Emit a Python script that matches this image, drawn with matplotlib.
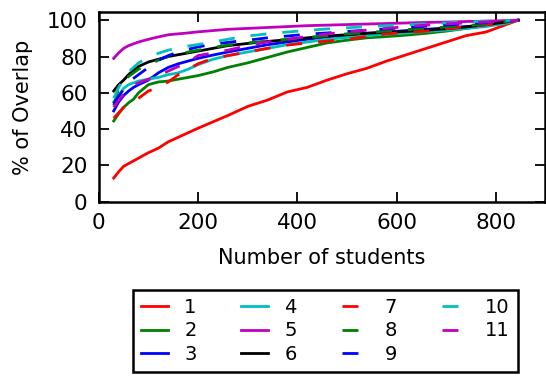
import matplotlib
matplotlib.use('Agg')
import matplotlib.pyplot as plt

# number of students (shared x grid)
students = [30, 40, 50, 60, 70, 80, 100, 120, 140, 160, 180, 200, 230, 260, 300,
            340, 380, 420, 460, 500, 540, 580, 620, 660, 700, 740, 780, 820, 845]

# % of overlap for each run
s1 = [13, 16.5, 19.5, 21, 22.5, 24, 27, 29.5, 33, 35.5, 38, 40.5, 44, 47.5, 52.5,
      56, 60.5, 63, 67, 70.5, 73.5, 77.5, 81, 84.5, 88, 91.5, 93.5, 97.5, 100]
s2 = [44.5, 48.5, 52, 54.5, 56.5, 60, 64.5, 66, 66.5, 67.5, 68.5, 69.5, 71.5, 74, 76.5,
      79.5, 82.5, 85, 87.5, 89, 90.3, 91, 91.8, 92.8, 94, 95.5, 97, 98.5, 100]
s3 = [50, 55, 58.5, 61, 63, 64.5, 67, 71, 74, 76, 77.5, 79, 80.8, 82.5, 84.5,
      86.5, 88, 89.5, 90.8, 91.8, 92.8, 93.5, 94.3, 95, 95.8, 96.5, 97.5, 98.8, 100]
s4 = [55, 58.5, 62.5, 64.5, 65.5, 66.5, 67.5, 68.5, 70, 71, 73, 75.5, 78.5, 80.5, 82.5,
      84.5, 86.5, 88, 89.5, 90.5, 91.5, 92.3, 93, 93.8, 94.5, 95.5, 96.5, 98.3, 100]
s5 = [79, 82, 84.5, 86, 87, 88, 89.5, 90.8, 92, 92.5, 93, 93.6, 94.3, 95, 95.5,
      96, 96.5, 97, 97.3, 97.6, 97.9, 98.2, 98.5, 98.8, 99, 99.3, 99.5, 99.8, 100]
s6 = [61, 64.5, 67, 70, 72.5, 74.5, 77, 78.5, 80, 81, 82, 83, 84.5, 86, 87.2,
      88.3, 89.3, 90.3, 91.3, 92, 92.8, 93.3, 93.8, 94.5, 95.3, 96.3, 97.5, 99, 100]
s7 = [46, 49, 52, 53.5, 55, 57, 61, 63, 66, 70, 73, 76, 79, 80.5, 82.5,
      84.5, 86.3, 87.5, 88.5, 89.5, 91, 92.5, 93.3, 94, 95.3, 96.5, 97.5, 99, 100]
s8 = [53, 62.5, 66, 69, 71, 73, 75.5, 78, 80, 81, 82.5, 83.5, 85, 86.3, 87.5,
      88.5, 89.5, 90.5, 91.5, 92.5, 93.2, 94, 94.8, 95.5, 96.3, 97, 98, 99.3, 100]
s9 = [54, 58, 62, 66, 68, 70, 74, 78, 80.5, 82.5, 84, 85.3, 86.8, 87.8, 89,
      90.3, 91.3, 92.3, 93, 93.8, 94.5, 95.2, 96, 96.7, 97.3, 98, 98.7, 99.5, 100]
s10 = [57, 63, 67.5, 71.5, 74, 76.5, 79.5, 81.8, 83.5, 84.8, 85.8, 86.6, 88, 89.5, 91.3,
       92.5, 93.5, 94.4, 95.2, 95.8, 96.5, 97, 97.5, 98, 98.5, 99, 99.5, 99.8, 100]
s11 = [52, 56, 59, 62, 64, 65.5, 67.5, 69.5, 72, 74.5, 77, 80.5, 82, 83.5, 86,
       88, 89.5, 91, 92.5, 93.5, 94.5, 95.5, 96.5, 97.3, 98, 98.5, 99, 99.6, 100]

series = [s1, s2, s3, s4, s5, s6, s7, s8, s9, s10, s11]
labels = ['1', '2', '3', '4', '5', '6', '7', '8', '9', '10', '11']
colors = ['#ff0000', '#008000', '#0000ff', '#00bfbf', '#bf00bf', '#000000',
          '#ff0000', '#008000', '#0000ff', '#00bfbf', '#bf00bf']

plt.rcParams['font.family'] = 'DejaVu Sans'
plt.rcParams['font.size'] = 15

fig = plt.figure(figsize=(5.46, 3.77), dpi=100)
ax = fig.add_axes([0.181, 0.465, 0.818, 0.503])

for i, ys in enumerate(series):
    if i < 6:
        ax.plot(students, ys, color=colors[i], lw=2, label=labels[i])
    else:
        ax.plot(students, ys, color=colors[i], lw=2, ls=(0, (5.75, 5.75)), label=labels[i])

ax.set_xlim(0, 900)
ax.set_ylim(0, 104.5)
ax.set_xticks([0, 200, 400, 600, 800])
ax.set_yticks([0, 20, 40, 60, 80, 100])
ax.tick_params(direction='in', length=7, width=1.3, top=True, right=True, labelsize=15.5, pad=8)
for sp in ax.spines.values():
    sp.set_linewidth(1.8)
ax.set_xlabel('Number of students', fontsize=15, labelpad=11)
ax.set_ylabel('% of Overlap', fontsize=15, labelpad=10)

leg = fig.legend(loc='upper center', bbox_to_anchor=(0.596, 0.231), ncol=4,
                 fontsize=14, handlelength=1.4, handletextpad=0.82, columnspacing=2.3,
                 labelspacing=0.22, fancybox=False, framealpha=1, borderpad=0.42,
                 borderaxespad=0)
leg.get_frame().set_edgecolor('black')
leg.get_frame().set_linewidth(1.8)

fig.savefig('out.png', dpi=100)
